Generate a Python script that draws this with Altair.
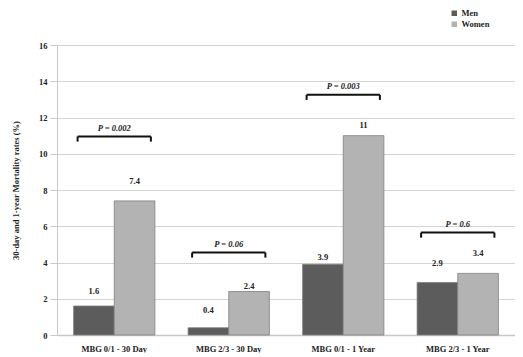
import altair as alt
import pandas as pd

categories = ["MBG 0/1 - 30 Day", "MBG 2/3 - 30 Day", "MBG 0/1 - 1 Year", "MBG 2/3 - 1 Year"]
series = ["Men", "Women"]
men = [1.6, 0.4, 3.9, 2.9]
women = [7.4, 2.4, 11, 3.4]
men_text = ["1.6", "0.4", "3.9", "2.9"]
women_text = ["7.4", "2.4", "11", "3.4"]
# height (in % units) at which each value label sits
men_label_at = [2.45, 1.38, 4.3, 4.0]
women_label_at = [8.5, 2.7, 11.6, 4.5]
p_values = ["P = 0.002", "P = 0.06", "P = 0.003", "P = 0.6"]
bracket_at = [10.95, 4.55, 13.25, 5.65]
y_ticks = [0, 2, 4, 6, 8, 10, 12, 14, 16]

colors = ["#5c5c5c", "#b3b3b3"]
FONT = "Liberation Serif"

rows = []
for i, c in enumerate(categories):
    rows.append({"cat": c, "sex": "Men", "val": men[i], "txt": men_text[i], "lab": men_label_at[i]})
    rows.append({"cat": c, "sex": "Women", "val": women[i], "txt": women_text[i], "lab": women_label_at[i]})
bars_df = pd.DataFrame(rows)

br_df = pd.DataFrame({"idx": list(range(len(categories))), "p": p_values, "lvl": bracket_at})

W, H = 458, 290

xscale = alt.Scale(domain=categories, paddingInner=0.29, paddingOuter=0.145)
yscale = alt.Scale(domain=[0, 16])

xaxis = alt.Axis(title=None, labelAngle=0, labelFont=FONT, labelFontWeight="bold",
                 labelFontSize=8.5, labelColor="#222", labelPadding=9,
                 ticks=False, domainColor="#c8c8c8", domainWidth=1.5)
yaxis = alt.Axis(values=y_ticks, title="30-day and 1-year Mortality rates (%)",
                 titleFont=FONT, titleFontWeight="bold", titleFontSize=8.5,
                 titleColor="#222", titleX=-42, titleY=145, titleAngle=270,
                 titleAlign="center", titleBaseline="middle",
                 labelFont=FONT, labelFontWeight="bold", labelFontSize=8.5,
                 labelColor="#222", labelPadding=3, tickSize=7,
                 tickColor="#c8c8c8", domainColor="#c8c8c8",
                 gridColor="#d4d4d4", grid=True)

base = alt.Chart(bars_df)

bars = base.mark_bar(stroke="#808080", strokeWidth=0.8).encode(
    x=alt.X("cat:N", scale=xscale, sort=categories, axis=xaxis),
    xOffset=alt.XOffset("sex:N", sort=series),
    y=alt.Y("val:Q", scale=yscale, axis=yaxis),
    color=alt.Color("sex:N", scale=alt.Scale(domain=series, range=colors),
                    legend=alt.Legend(title=None, orient="none", legendX=393, legendY=-36,
                                      symbolType="square", symbolSize=30, symbolStrokeWidth=0,
                                      labelFont=FONT, labelFontWeight="bold", labelFontSize=8.5,
                                      labelColor="#222", labelOffset=3, rowPadding=2)),
)

labels = base.mark_text(font=FONT, fontWeight="bold", fontSize=8.5, color="#222",
                        baseline="middle").encode(
    x=alt.X("cat:N", scale=xscale, sort=categories, axis=xaxis),
    xOffset=alt.XOffset("sex:N", sort=series),
    y=alt.Y("lab:Q", scale=yscale, axis=yaxis),
    text="txt:N",
)

half = 0.32
brbase = alt.Chart(br_df).transform_calculate(
    x1=f"datum.idx + 0.5 - {half}", x2=f"datum.idx + 0.5 + {half}",
    lo="datum.lvl - 0.28", xc="datum.idx + 0.5",
)
xq = alt.Scale(domain=[0, len(categories)])

hline = brbase.mark_rule(strokeWidth=2, color="#111").encode(
    x=alt.X("x1:Q", scale=xq, axis=None), x2="x2:Q", y=alt.Y("lvl:Q", scale=yscale, axis=yaxis))
lend = brbase.mark_rule(strokeWidth=2, color="#111").encode(
    x=alt.X("x1:Q", scale=xq, axis=None), y=alt.Y("lvl:Q", scale=yscale, axis=yaxis), y2="lo:Q")
rend = brbase.mark_rule(strokeWidth=2, color="#111").encode(
    x=alt.X("x2:Q", scale=xq, axis=None), y=alt.Y("lvl:Q", scale=yscale, axis=yaxis), y2="lo:Q")
ptext = brbase.mark_text(font=FONT, fontWeight="bold", fontStyle="italic", fontSize=8.5,
                         color="#222", dy=-9, baseline="middle").encode(
    x=alt.X("xc:Q", scale=xq, axis=None),
    y=alt.Y("lvl:Q", scale=yscale, axis=yaxis), text="p:N",
)

bar_layer = alt.layer(bars, labels)
bracket_layer = alt.layer(hline, lend, rend, ptext)

chart = alt.layer(bar_layer, bracket_layer).resolve_scale(x="independent").properties(
    width=W, height=H,
    autosize=alt.AutoSizeParams(type="none"),
    padding={"left": 49, "top": 37, "right": 0, "bottom": 18},
).configure_view(stroke=None).configure(background="white")

chart.save("out.html", embed_options={"renderer": "svg", "actions": False})
